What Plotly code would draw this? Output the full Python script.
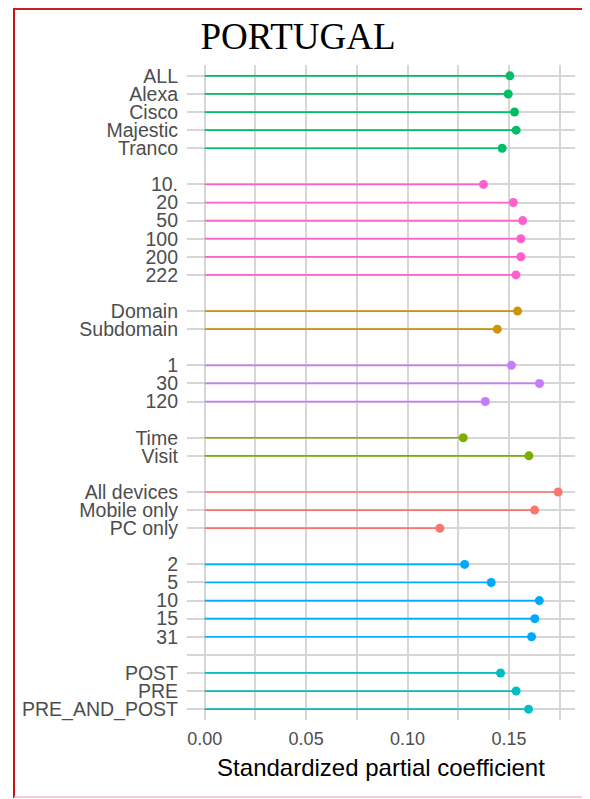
import plotly.graph_objects as go

# ---- data (top to bottom) ----
source_labels = ["ALL", "Alexa", "Cisco", "Majestic", "Tranco"]
source_values = [0.1504, 0.1496, 0.1527, 0.1535, 0.1466]

size_labels = ["10.", "20", "50", "100", "200", "222"]
size_values = [0.1374, 0.1521, 0.1567, 0.1558, 0.1558, 0.1534]

level_labels = ["Domain", "Subdomain"]
level_values = [0.1542, 0.1442]

period_labels = ["1", "30", "120"]
period_values = [0.1512, 0.1650, 0.1383]

metric_labels = ["Time", "Visit"]
metric_values = [0.1274, 0.1598]

device_labels = ["All devices", "Mobile only", "PC only"]
device_values = [0.1742, 0.1626, 0.1159]

days_labels = ["2", "5", "10 ", "15", "31"]
days_values = [0.1281, 0.1412, 0.1649, 0.1627, 0.1611]

stage_labels = ["POST", "PRE", "PRE_AND_POST"]
stage_values = [0.1458, 0.1535, 0.1596]

x_tick_vals = [0.00, 0.05, 0.10, 0.15]
x_tick_text = ["0.00", "0.05", "0.10", "0.15"]

groups = [
    (source_labels, source_values, "#00BE67"),
    (size_labels, size_values, "#FF61CC"),
    (level_labels, level_values, "#CD9600"),
    (period_labels, period_values, "#C77CFF"),
    (metric_labels, metric_values, "#7CAE00"),
    (device_labels, device_values, "#F8766D"),
    (days_labels, days_values, "#00A9FF"),
    (stage_labels, stage_values, "#00BFC4"),
]

# build category order with spacer rows between groups
order = []
spacers = []
for gi, (labs, vals, col) in enumerate(groups):
    order.extend(labs)
    if gi < len(groups) - 1:
        sp = " " * (gi + 1) + "\u200b"
        spacers.append(sp)
        order.append(sp)

fig = go.Figure()
for labs, vals, col in groups:
    xs, ys = [], []
    for l, v in zip(labs, vals):
        xs += [0, v, None]
        ys += [l, l, None]
    fig.add_trace(go.Scatter(x=xs, y=ys, mode="lines",
                             line=dict(color=col, width=1.7),
                             showlegend=False, hoverinfo="skip"))
    fig.add_trace(go.Scatter(x=vals, y=labs, mode="markers",
                             marker=dict(color=col, size=9),
                             showlegend=False))

real_ticks = [c for c in order if c not in spacers] + [spacers[-1]]
tick_text = [c.strip() if c not in spacers else "" for c in real_ticks]

# page body adds an 8px offset; positions below are screen pixels minus it
OFF = 8
W, H = 590, 799
L_PX, R_PX, T_PX, B_PX = 187 - OFF, 575 - OFF, 65 - OFF, 720 - OFF

grid_col = "#d6d6d6"
fig.update_layout(
    width=W, height=H,
    margin=dict(l=L_PX, r=W - R_PX, t=T_PX, b=H - B_PX),
    paper_bgcolor="white", plot_bgcolor="white",
    title=dict(text="PORTUGAL", x=(298 - OFF) / W, xanchor="center",
               yref="container", y=1 - 15 / H, yanchor="top",
               font=dict(family="Liberation Serif, Times New Roman, serif",
                         size=37, color="black")),
    xaxis=dict(range=[-0.0087, 0.1825], tickmode="array",
               tickvals=x_tick_vals, ticktext=x_tick_text,
               showgrid=True, gridcolor=grid_col, gridwidth=1.5,
               minor=dict(dtick=0.025, tick0=0, showgrid=True,
                          gridcolor=grid_col, gridwidth=1.5),
               zeroline=False, showline=False, ticks="",
               automargin=False, ticklabelstandoff=6,
               tickfont=dict(family="Liberation Sans, Arial, sans-serif",
                             size=18, color="#4d4d4d"),
               title=dict(text="Standardized partial coefficient", standoff=11,
                          font=dict(family="Liberation Sans, Arial, sans-serif",
                                    size=24, color="black"))),
    yaxis=dict(type="category", categoryorder="array", categoryarray=order,
               range=[len(order) - 1 + 0.6, -0.6],
               tickmode="array", tickvals=real_ticks, ticktext=tick_text,
               showgrid=True, gridcolor=grid_col, gridwidth=1.5,
               zeroline=False, showline=False, ticks="",
               automargin=False, ticklabelstandoff=8,
               tickfont=dict(family="Liberation Sans, Arial, sans-serif",
                             size=19.5, color="#4d4d4d")),
)

# red frame of the original picture (figure pixel coords)
pw, ph = R_PX - L_PX, B_PX - T_PX
def px(x):
    return (x - L_PX) / pw
def py(y):
    return (B_PX - y) / ph
fig.add_shape(type="line", xref="paper", yref="paper",
              x0=px(6), x1=px(6), y0=py(0), y1=py(790),
              line=dict(color="#d01010", width=2))
fig.add_shape(type="line", xref="paper", yref="paper",
              x0=px(6), x1=px(600), y0=py(1), y1=py(1),
              line=dict(color="#c82020", width=2))
fig.add_shape(type="line", xref="paper", yref="paper",
              x0=px(6), x1=px(600), y0=py(789), y1=py(789),
              line=dict(color="#f2b8c0", width=1.5))

fig.write_html("out.html", config={"displayModeBar": False})
